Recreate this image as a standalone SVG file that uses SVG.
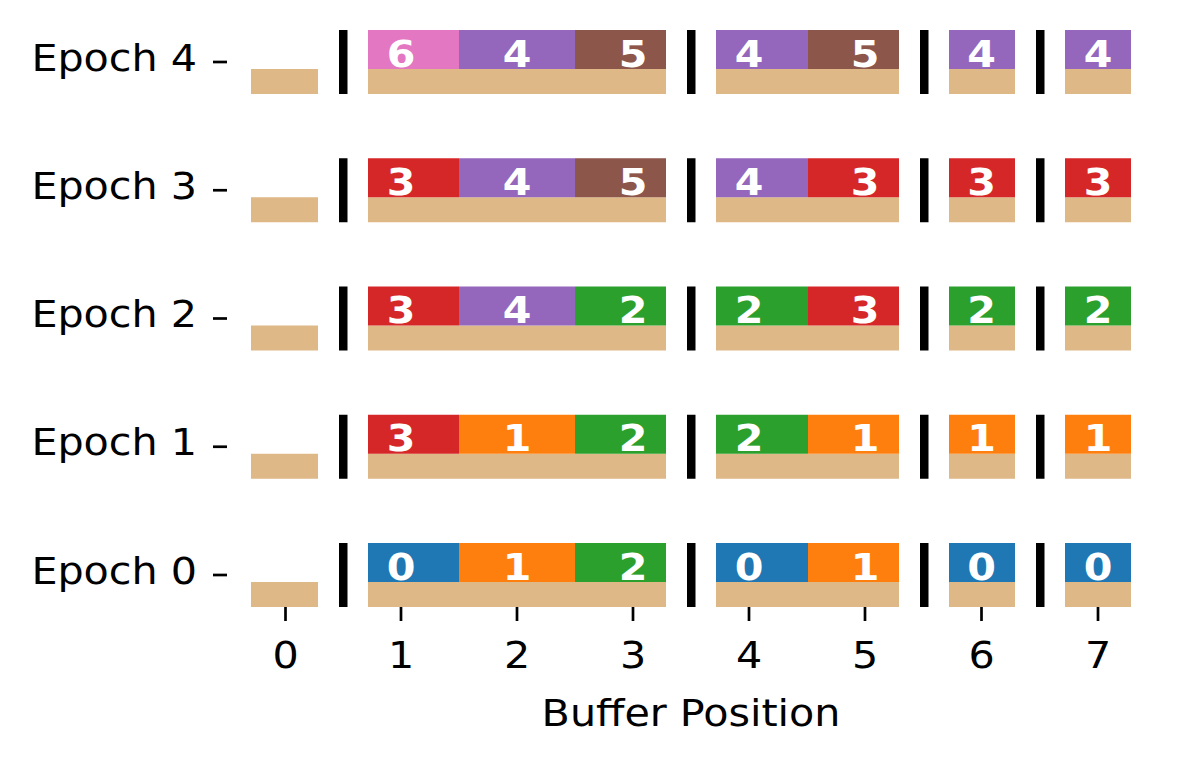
<svg xmlns="http://www.w3.org/2000/svg" width="1186" height="767" viewBox="0 0 1186 767">
<style>
.t{fill:#deb887}
.sep{fill:#000}
.c0{fill:#1f77b4}.c1{fill:#ff7f0e}.c2{fill:#2ca02c}.c3{fill:#d62728}.c4{fill:#9467bd}.c5{fill:#8c564b}.c6{fill:#e377c2}
.n{font-family:"DejaVu Sans",sans-serif;font-weight:bold;font-size:37px;fill:#fff;text-anchor:middle}
.lab{font-family:"DejaVu Sans",sans-serif;font-size:37.5px;fill:#000}
.tick{stroke:#000;stroke-width:2.7}
</style>
<defs>
<g id="base">
<rect class="t" x="251" y="39" width="67" height="25"/>
<rect class="t" x="368" y="39" width="298" height="25"/>
<rect class="t" x="716" y="39" width="183" height="25"/>
<rect class="t" x="949" y="39" width="66" height="25"/>
<rect class="t" x="1065" y="39" width="66" height="25"/>
<rect class="sep" x="339" y="0" width="8.5" height="64"/>
<rect class="sep" x="687" y="0" width="8.5" height="64"/>
<rect class="sep" x="920" y="0" width="8.5" height="64"/>
<rect class="sep" x="1036" y="0" width="8.5" height="64"/>
</g>
</defs>

<g id="epoch4" transform="translate(0,30)">
<use href="#base"/>
<rect class="c6" x="368" y="0" width="91" height="39"/>
<rect class="c4" x="459" y="0" width="116" height="39"/>
<rect class="c5" x="575" y="0" width="91" height="39"/>
<rect class="c4" x="716" y="0" width="92" height="39"/>
<rect class="c5" x="808" y="0" width="91" height="39"/>
<rect class="c4" x="949" y="0" width="66" height="39"/>
<rect class="c4" x="1065" y="0" width="66" height="39"/>
<text class="n" transform="translate(401,36.5) scale(1.115,1)">6</text><text class="n" transform="translate(517,36.5) scale(1.115,1)">4</text><text class="n" transform="translate(633,36.5) scale(1.115,1)">5</text>
<text class="n" transform="translate(749,36.5) scale(1.115,1)">4</text><text class="n" transform="translate(865,36.5) scale(1.115,1)">5</text>
<text class="n" transform="translate(981.5,36.5) scale(1.115,1)">4</text><text class="n" transform="translate(1098,36.5) scale(1.115,1)">4</text>
</g>

<g id="epoch3" transform="translate(0,158.25)">
<use href="#base"/>
<rect class="c3" x="368" y="0" width="91" height="39"/>
<rect class="c4" x="459" y="0" width="116" height="39"/>
<rect class="c5" x="575" y="0" width="91" height="39"/>
<rect class="c4" x="716" y="0" width="92" height="39"/>
<rect class="c3" x="808" y="0" width="91" height="39"/>
<rect class="c3" x="949" y="0" width="66" height="39"/>
<rect class="c3" x="1065" y="0" width="66" height="39"/>
<text class="n" transform="translate(401,36.5) scale(1.115,1)">3</text><text class="n" transform="translate(517,36.5) scale(1.115,1)">4</text><text class="n" transform="translate(633,36.5) scale(1.115,1)">5</text>
<text class="n" transform="translate(749,36.5) scale(1.115,1)">4</text><text class="n" transform="translate(865,36.5) scale(1.115,1)">3</text>
<text class="n" transform="translate(981.5,36.5) scale(1.115,1)">3</text><text class="n" transform="translate(1098,36.5) scale(1.115,1)">3</text>
</g>

<g id="epoch2" transform="translate(0,286.5)">
<use href="#base"/>
<rect class="c3" x="368" y="0" width="91" height="39"/>
<rect class="c4" x="459" y="0" width="116" height="39"/>
<rect class="c2" x="575" y="0" width="91" height="39"/>
<rect class="c2" x="716" y="0" width="92" height="39"/>
<rect class="c3" x="808" y="0" width="91" height="39"/>
<rect class="c2" x="949" y="0" width="66" height="39"/>
<rect class="c2" x="1065" y="0" width="66" height="39"/>
<text class="n" transform="translate(401,36.5) scale(1.115,1)">3</text><text class="n" transform="translate(517,36.5) scale(1.115,1)">4</text><text class="n" transform="translate(633,36.5) scale(1.115,1)">2</text>
<text class="n" transform="translate(749,36.5) scale(1.115,1)">2</text><text class="n" transform="translate(865,36.5) scale(1.115,1)">3</text>
<text class="n" transform="translate(981.5,36.5) scale(1.115,1)">2</text><text class="n" transform="translate(1098,36.5) scale(1.115,1)">2</text>
</g>

<g id="epoch1" transform="translate(0,414.75)">
<use href="#base"/>
<rect class="c3" x="368" y="0" width="91" height="39"/>
<rect class="c1" x="459" y="0" width="116" height="39"/>
<rect class="c2" x="575" y="0" width="91" height="39"/>
<rect class="c2" x="716" y="0" width="92" height="39"/>
<rect class="c1" x="808" y="0" width="91" height="39"/>
<rect class="c1" x="949" y="0" width="66" height="39"/>
<rect class="c1" x="1065" y="0" width="66" height="39"/>
<text class="n" transform="translate(401,36.5) scale(1.115,1)">3</text><text class="n" transform="translate(517,36.5) scale(1.115,1)">1</text><text class="n" transform="translate(633,36.5) scale(1.115,1)">2</text>
<text class="n" transform="translate(749,36.5) scale(1.115,1)">2</text><text class="n" transform="translate(865,36.5) scale(1.115,1)">1</text>
<text class="n" transform="translate(981.5,36.5) scale(1.115,1)">1</text><text class="n" transform="translate(1098,36.5) scale(1.115,1)">1</text>
</g>

<g id="epoch0" transform="translate(0,543)">
<use href="#base"/>
<rect class="c0" x="368" y="0" width="91" height="39"/>
<rect class="c1" x="459" y="0" width="116" height="39"/>
<rect class="c2" x="575" y="0" width="91" height="39"/>
<rect class="c0" x="716" y="0" width="92" height="39"/>
<rect class="c1" x="808" y="0" width="91" height="39"/>
<rect class="c0" x="949" y="0" width="66" height="39"/>
<rect class="c0" x="1065" y="0" width="66" height="39"/>
<text class="n" transform="translate(401,36.5) scale(1.115,1)">0</text><text class="n" transform="translate(517,36.5) scale(1.115,1)">1</text><text class="n" transform="translate(633,36.5) scale(1.115,1)">2</text>
<text class="n" transform="translate(749,36.5) scale(1.115,1)">0</text><text class="n" transform="translate(865,36.5) scale(1.115,1)">1</text>
<text class="n" transform="translate(981.5,36.5) scale(1.115,1)">0</text><text class="n" transform="translate(1098,36.5) scale(1.115,1)">0</text>
</g>

<g id="y-axis">
<line class="tick" x1="213" y1="62" x2="227" y2="62"/>
<line class="tick" x1="213" y1="190.25" x2="227" y2="190.25"/>
<line class="tick" x1="213" y1="318.5" x2="227" y2="318.5"/>
<line class="tick" x1="213" y1="446.75" x2="227" y2="446.75"/>
<line class="tick" x1="213" y1="575" x2="227" y2="575"/>
<text class="lab" text-anchor="end" transform="translate(197,70.5) scale(1.1,1)">Epoch 4</text>
<text class="lab" text-anchor="end" transform="translate(197,198.75) scale(1.1,1)">Epoch 3</text>
<text class="lab" text-anchor="end" transform="translate(197,327) scale(1.1,1)">Epoch 2</text>
<text class="lab" text-anchor="end" transform="translate(197,455.25) scale(1.1,1)">Epoch 1</text>
<text class="lab" text-anchor="end" transform="translate(197,583.5) scale(1.1,1)">Epoch 0</text>
</g>

<g id="x-axis" text-anchor="middle">
<line class="tick" x1="285.5" y1="607" x2="285.5" y2="621"/>
<line class="tick" x1="401" y1="607" x2="401" y2="621"/>
<line class="tick" x1="517" y1="607" x2="517" y2="621"/>
<line class="tick" x1="633" y1="607" x2="633" y2="621"/>
<line class="tick" x1="749" y1="607" x2="749" y2="621"/>
<line class="tick" x1="865" y1="607" x2="865" y2="621"/>
<line class="tick" x1="981.5" y1="607" x2="981.5" y2="621"/>
<line class="tick" x1="1098" y1="607" x2="1098" y2="621"/>
<text class="lab" transform="translate(285.5,668) scale(1.1,1)">0</text>
<text class="lab" transform="translate(401,668) scale(1.1,1)">1</text>
<text class="lab" transform="translate(517,668) scale(1.1,1)">2</text>
<text class="lab" transform="translate(633,668) scale(1.1,1)">3</text>
<text class="lab" transform="translate(749,668) scale(1.1,1)">4</text>
<text class="lab" transform="translate(865,668) scale(1.1,1)">5</text>
<text class="lab" transform="translate(981.5,668) scale(1.1,1)">6</text>
<text class="lab" transform="translate(1098,668) scale(1.1,1)">7</text>
<text class="lab" transform="translate(691,726) scale(1.1,1)">Buffer Position</text>
</g>
</svg>
